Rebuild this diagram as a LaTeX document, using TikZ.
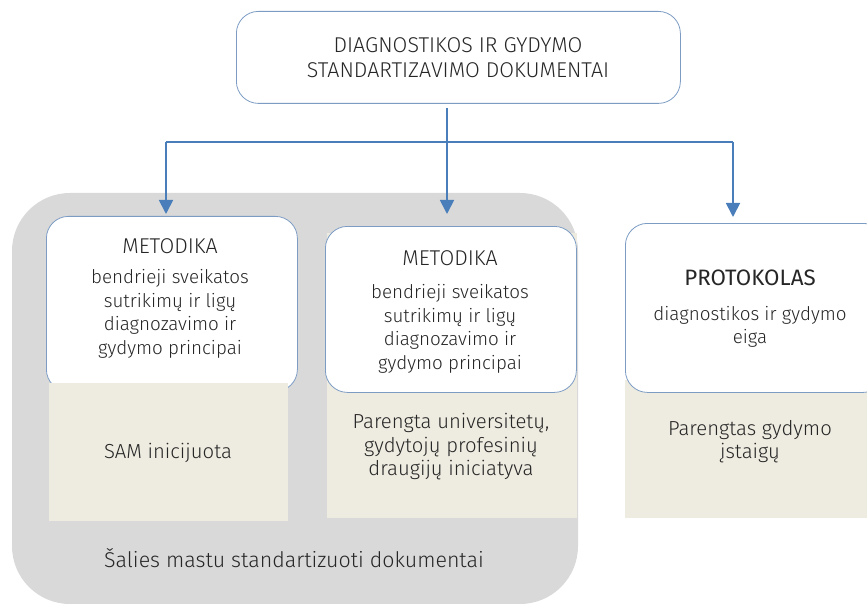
\documentclass[tikz,border=0pt]{standalone}
\usepackage{fontspec}
\setmainfont{Fira Sans Light}
\newfontfamily\firareg{Fira Sans}
\usetikzlibrary{arrows.meta}
\definecolor{arrowblue}{HTML}{4A7EBB}
\definecolor{boxline}{HTML}{7C9CC4}
\definecolor{graybg}{HTML}{D9D9D9}
\definecolor{beige}{HTML}{EEEBE0}
\definecolor{txt}{HTML}{262626}
\begin{document}
\begin{tikzpicture}[x=1pt,y=-1pt,
  txtnode/.style={text=txt, align=center, inner sep=0pt, font=\fontsize{18.8}{23.5}\selectfont},
  beigetxt/.style={text=txt, align=center, inner sep=0pt, font=\fontsize{20.3}{23.5}\selectfont},
  titlenode/.style={text=txt, align=center, inner sep=0pt, font=\fontsize{21.4}{25}\selectfont},
  wbox/.style={draw=boxline, line width=0.8pt, fill=white, rounded corners=22pt, inner sep=0pt, anchor=north west},
  bbox/.style={fill=beige, draw=none, inner sep=0pt, anchor=north west},
  conn/.style={draw=arrowblue, line width=1.8pt},
  arr/.style={conn, -{Triangle[length=14pt,width=14pt]}}]
\useasboundingbox (0,0) rectangle (867,604);
% grey background region
\fill[graybg, rounded corners=58pt] (12,193) rectangle (578,604);
% top box
\node[wbox, minimum width=444pt, minimum height=92pt] (top) at (236,11) {};
\node[titlenode] (toptxt) at (458,57.5) {DIAGNOSTIKOS IR GYDYMO\\STANDARTIZAVIMO DOKUMENTAI};
% box 1
\node[wbox, minimum width=251pt, minimum height=175pt] (m1) at (46,216) {};
\node[bbox, minimum width=239pt, minimum height=138pt] (b1) at (49,383) {};
% box 2
\node[bbox, minimum width=250pt, minimum height=285pt] (b2) at (327,233) {};
\node[wbox, minimum width=251pt, minimum height=166pt] (m2) at (325,226) {};
% box 3
\node[bbox, minimum width=245pt, minimum height=138pt] (b3) at (625,380) {};
\node[wbox, minimum width=260pt, minimum height=169pt] (p3) at (625,223) {};
% texts
\node[titlenode] (m1t) at (170,246) {METODIKA};
\node[txtnode] (m1b) at (170,314) {bendrieji sveikatos\\sutrikimų ir ligų\\diagnozavimo ir\\gydymo principai};
\node[titlenode] (m2t) at (450,258) {METODIKA};
\node[txtnode] (m2b) at (450,329) {bendrieji sveikatos\\sutrikimų ir ligų\\diagnozavimo ir\\gydymo principai};
\node[titlenode, font=\firareg\fontsize{22.3}{25}\selectfont] (p3t) at (750,278) {PROTOKOLAS};
\node[txtnode] (p3b) at (750,327) {diagnostikos ir gydymo\\eiga};
\node[beigetxt] (b1t) at (168,453) {SAM inicijuota};
\node[beigetxt] (b2t) at (451,447) {Parengta universitetų,\\gydytojų profesinių\\draugijų iniciatyva};
\node[beigetxt] (b3t) at (750,441.5) {Parengtas gydymo\\įstaigų};
\node[titlenode] (all) at (294,558) {Šalies mastu standartizuoti dokumentai};
% connectors
\coordinate (s0) at (447,108);
\coordinate (j) at (447,142);
\coordinate (jl) at (166,142);
\coordinate (jr) at (733,142);
\coordinate (e1) at (166,214);
\coordinate (e2) at (447,214);
\coordinate (e3) at (733,217);
\draw[conn] (s0) -- (j);
\draw[conn] (jl) -- (jr);
\draw[arr] (jl) -- (e1);
\draw[arr] (j) -- (e2);
\draw[arr] (jr) -- (e3);
\end{tikzpicture}
\end{document}
